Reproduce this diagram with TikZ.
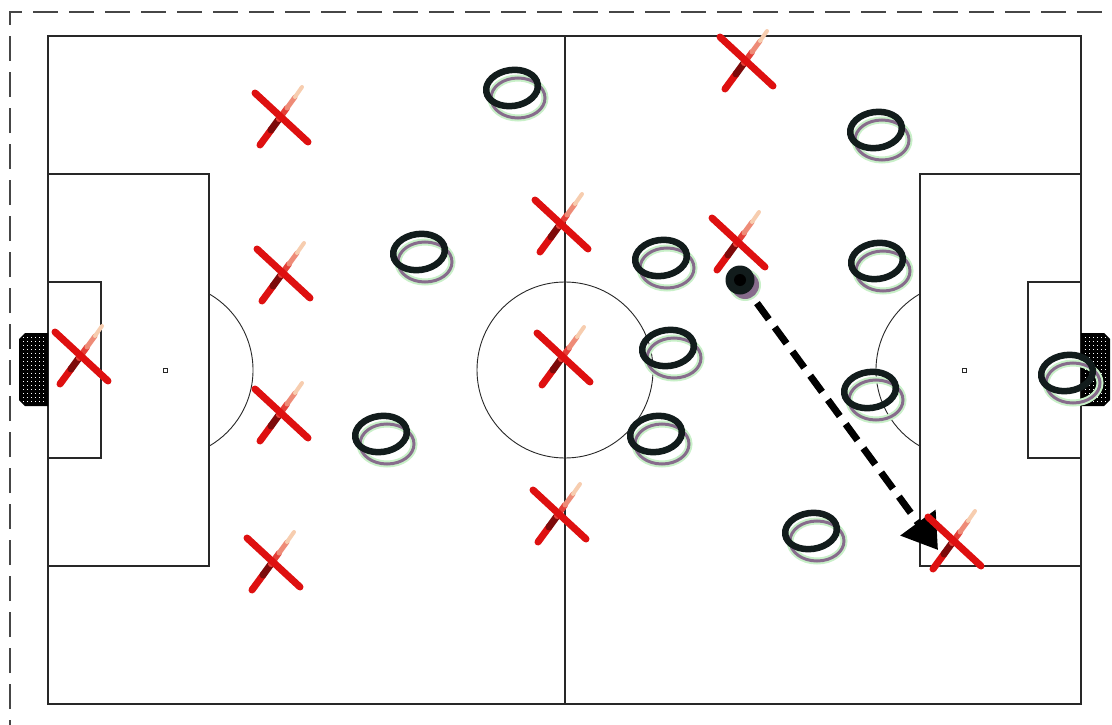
\documentclass[tikz,border=0pt]{standalone}
\usetikzlibrary{arrows.meta}
\definecolor{xred}{RGB}{222,16,16}
\definecolor{xdark}{RGB}{125,10,10}
\definecolor{xpeach}{RGB}{247,205,175}
\definecolor{ringcol}{RGB}{18,28,28}
\definecolor{ringshadow}{RGB}{135,108,140}
\definecolor{ringglow}{RGB}{200,240,200}
\definecolor{fieldline}{RGB}{40,40,40}
\definecolor{borderline}{RGB}{70,70,70}
\tikzset{
  fieldstroke/.style={line width=1.3pt, draw=fieldline},
  arcstroke/.style={line width=0.9pt, draw=fieldline},
  xstroke/.style={line cap=round, line width=7pt},
  borderstroke/.style={line width=2pt, draw=borderline, dash pattern=on 25pt off 11pt},
  arrowline/.style={line width=7pt, black, dash pattern=on 20pt off 10pt,
    -{Triangle[length=34pt,width=42pt]}},
}
\newcommand\drawcross[2]{%
  \begin{scope}[shift={(#1,#2)}]
    \draw[xstroke, xred] (-20,27) -- (-9,12);
    \draw[xstroke, xdark] (-9,12) -- (-1,1);
    \draw[xstroke, line width=6pt, xred!75!xpeach] (-1,1) -- (7,-10);
    \draw[xstroke, line width=5pt, xpeach!65!xred] (7,-10) -- (15,-21);
    \draw[xstroke, line width=4pt, xpeach] (15,-21) -- (22,-31);
    \draw[xstroke, xred] (-25,-25) -- (28,24);
  \end{scope}}
\newcommand\drawring[2]{%
  \begin{scope}[shift={(#1,#2)}]
    \draw[line width=7pt, ringglow] (6,10) ellipse [x radius=27, y radius=20];
    \draw[line width=3pt, ringshadow] (6,10) ellipse [x radius=27, y radius=20];
    \draw[line width=6.5pt, ringcol, rotate=8] (0,0) ellipse [x radius=26, y radius=18];
  \end{scope}}
\newcommand\drawnet{%
  \fill[black] (48,333) -- (25,333) -- (19,339) -- (19,400) -- (25,406) -- (48,406) -- cycle;
  \foreach \xx in {23,27,...,45} {\foreach \yy in {337,341,...,403} {\fill[white] (\xx,\yy) rectangle ++(1.3,1.3);}}}
\newcommand\drawhalf{%
  \draw[fieldstroke] (48,174) rectangle (209,566);
  \draw[fieldstroke] (48,282) rectangle (101,458);
  \draw[line width=0.8pt, fieldline] (163,368) rectangle (167,372);
  \draw[arcstroke] (165,370) ++(-60:88) arc[start angle=-60, end angle=60, radius=88];
  \drawnet}
\begin{document}
\begin{tikzpicture}[x=1pt,y=-1pt]
  \useasboundingbox (0,0) rectangle (1112,725);
  \fill[white] (0,0) rectangle (1112,725);
  % outer dashed frame
  \draw[borderstroke] (10,745) -- (10,12) -- (1130,12);
  % field
  \draw[fieldstroke] (48,36) rectangle (1081,704);
  \draw[fieldstroke] (565,36) -- (565,704);
  \draw[arcstroke] (565,370) circle (88);
  \drawhalf
  \begin{scope}[shift={(1129,0)}, xscale=-1]
    \drawhalf
  \end{scope}
  % O players
  \foreach \a/\b in {512/88,419/252,381/434,661/258,668/348,656/434,
                  876/130,877/261,870/390,811/531,1067/373} {\drawring{\a}{\b}}
  % ball and pass arrow
  \fill[ringglow] (745,285) circle (16);
  \fill[ringshadow] (745,285) circle (14);
  \node[circle, fill=ringcol, minimum size=29pt, inner sep=0pt] (ball) at (740,280) {};
  \fill[black] (ball.center) circle (6);
  \coordinate (tgt) at (938,550);
  \draw[arrowline, shorten <=14pt] (ball) -- (tgt);
  % X players
  \foreach \a/\b in {280/118,282/274,280/414,272/563,80/357,560/225,
                  562/358,558/515,745/62,737/243,953/542} {\drawcross{\a}{\b}}
\end{tikzpicture}
\end{document}
